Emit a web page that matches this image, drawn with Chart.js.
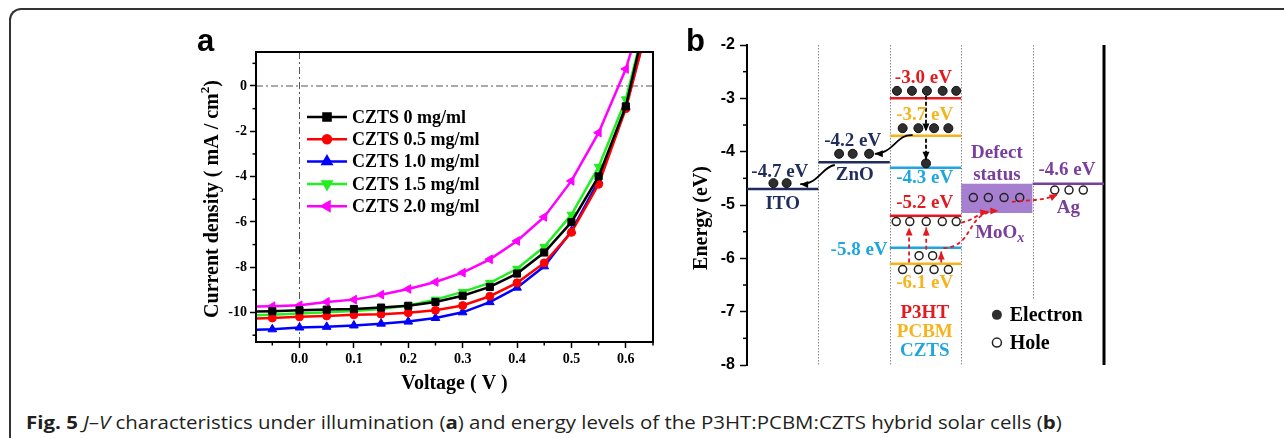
<!DOCTYPE html>
<html>
<head>
<meta charset="utf-8">
<script src="https://cdn.jsdelivr.net/npm/chart.js@4.4.1/dist/chart.umd.min.js"></script>
<style>
html,body{margin:0;padding:0;background:#fff;}
body{width:1284px;height:438px;position:relative;overflow:hidden;}
#frame{position:absolute;left:9px;top:8px;width:1300px;height:460px;border-top:2px solid #333;border-left:2px solid #333;border-top-left-radius:12px;}
#jv{position:absolute;left:170px;top:10px;}
#band{position:absolute;left:680px;top:10px;}
#caption{position:absolute;left:26px;top:412px;font-family:"Open Sans",sans-serif;font-size:18px;line-height:20px;color:#231f20;white-space:nowrap;transform-origin:0 0;}
</style>
</head>
<body>
<div id="frame"></div>
<canvas id="jv" width="500" height="390"></canvas>
<canvas id="band" width="440" height="390"></canvas>
<div id="caption"><b>Fig. 5</b> <i>J</i>–<i>V</i> characteristics under illumination (<b>a</b>) and energy levels of the P3HT:PCBM:CZTS hybrid solar cells (<b>b</b>)</div>
<script>
const SERIF = '"Liberation Serif", "Times New Roman", serif';
const SANS = '"Liberation Sans", Arial, sans-serif';

// ---- panel a : J-V curves ----
const voltage = [-0.1,-0.05,0,0.05,0.1,0.15,0.2,0.25,0.3,0.35,0.4,0.45,0.5,0.55,0.6,0.65];
const czts0  = [-9.96,-9.94,-9.90,-9.87,-9.84,-9.78,-9.70,-9.53,-9.26,-8.87,-8.28,-7.35,-6.01,-3.99,-0.90,4.3];
const czts05 = [-10.27,-10.24,-10.19,-10.15,-10.10,-10.07,-10.01,-9.90,-9.69,-9.28,-8.69,-7.81,-6.46,-4.34,-1.00,3.6];
const czts10 = [-10.78,-10.74,-10.66,-10.63,-10.57,-10.49,-10.40,-10.24,-9.99,-9.54,-8.90,-7.96,-6.41,-4.19,-0.93,3.6];
const czts15 = [-10.14,-10.10,-10.04,-9.99,-9.93,-9.84,-9.69,-9.43,-9.09,-8.69,-8.07,-7.10,-5.68,-3.57,-0.59,4.2];
const czts20 = [-9.75,-9.72,-9.68,-9.53,-9.43,-9.21,-8.96,-8.65,-8.24,-7.65,-6.84,-5.78,-4.19,-2.06,0.75,4.75];
const seriesNames = ['CZTS 0 mg/ml','CZTS 0.5 mg/ml','CZTS 1.0 mg/ml','CZTS 1.5 mg/ml','CZTS 2.0 mg/ml'];
const seriesValues = [czts0, czts05, czts10, czts15, czts20];
const seriesColors = ['#000000','#ff0000','#0000ff','#22ee22','#ff00ff'];
const seriesMarkers = ['rect','circle','triangle','triangle','triangle'];
const seriesRotation = [0,0,0,180,-90];
const seriesRadius = [5,4,5,5,5];

const jvDatasets = seriesNames.map((name,i)=>({
  label:name,
  data:voltage.map((v,k)=>({x:v,y:seriesValues[i][k]})),
  borderColor:seriesColors[i], backgroundColor:seriesColors[i],
  borderWidth:2.5, pointStyle:seriesMarkers[i], rotation:seriesRotation[i],
  pointRadius:seriesRadius[i], pointBorderWidth:1, tension:0
}));

const jvDecor = {
  id:'jvDecor',
  beforeDatasetsDraw(chart){
    const {ctx, chartArea:a, scales:{x,y}} = chart;
    ctx.save();
    ctx.strokeStyle='#555'; ctx.lineWidth=1; ctx.setLineDash([7,3,2,3]);
    const x0=x.getPixelForValue(0), y0=y.getPixelForValue(0);
    ctx.beginPath(); ctx.moveTo(x0,a.top); ctx.lineTo(x0,a.bottom); ctx.stroke();
    ctx.beginPath(); ctx.moveTo(a.left,y0); ctx.lineTo(a.right,y0); ctx.stroke();
    ctx.restore();
  },
  afterDraw(chart){
    const {ctx, chartArea:a, scales:{x,y}} = chart;
    ctx.save();
    ctx.strokeStyle='#000'; ctx.lineWidth=2;
    ctx.strokeRect(a.left,a.top,a.right-a.left,a.bottom-a.top);
    ctx.lineWidth=1.5;
    for (let v=-11; v<=1; v+=2){ const p=y.getPixelForValue(v); ctx.beginPath(); ctx.moveTo(a.left,p); ctx.lineTo(a.left-3.5,p); ctx.stroke(); }
    for (let v=-0.05; v<0.66; v+=0.1){ const p=x.getPixelForValue(v); if(p>a.right) break; ctx.beginPath(); ctx.moveTo(p,a.bottom); ctx.lineTo(p,a.bottom+3.5); ctx.stroke(); }
    // legend
    chart.data.datasets.forEach((ds,i)=>{
      const ly=a.top+65+i*22.3, lx0=a.left+51, lx1=lx0+40;
      ctx.strokeStyle=ds.borderColor; ctx.fillStyle=ds.backgroundColor; ctx.lineWidth=2.5;
      ctx.beginPath(); ctx.moveTo(lx0,ly); ctx.lineTo(lx1,ly); ctx.stroke();
      Chart.helpers.drawPoint(ctx,{pointStyle:ds.pointStyle,rotation:ds.rotation,radius:ds.pointRadius,borderWidth:1},(lx0+lx1)/2,ly);
      ctx.fillStyle='#000'; ctx.font='bold 18px '+SERIF; ctx.textAlign='left'; ctx.textBaseline='middle';
      ctx.fillText(ds.label,lx1+5,ly+1);
    });
    // panel letter and titles
    ctx.fillStyle='#000';
    ctx.font='bold 31px '+SANS; ctx.textAlign='left'; ctx.textBaseline='alphabetic';
    ctx.fillText('a',27,41);
    ctx.font='bold 20px '+SERIF; ctx.textAlign='center'; ctx.textBaseline='middle';
    ctx.fillText('Voltage ( V )',(a.left+a.right)/2,a.bottom+42);
    ctx.translate(a.left-43,(a.top+a.bottom)/2+2); ctx.rotate(-Math.PI/2);
    const main='Current density ( mA / cm', end=')';
    ctx.font='bold 20px '+SERIF; const w1=ctx.measureText(main).width, w3=ctx.measureText(end).width;
    ctx.font='bold 13px '+SERIF; const w2=ctx.measureText('2').width;
    let sx=-(w1+w2+w3)/2; ctx.textAlign='left';
    ctx.font='bold 20px '+SERIF; ctx.fillText(main,sx,0);
    ctx.font='bold 13px '+SERIF; ctx.fillText('2',sx+w1,-7);
    ctx.font='bold 20px '+SERIF; ctx.fillText(end,sx+w1+w2,0);
    ctx.restore();
  }
};

new Chart(document.getElementById('jv'),{
  type:'line',
  data:{datasets:jvDatasets},
  options:{
    responsive:false, animation:false,
    layout:{padding:{top:42,right:17,left:0,bottom:0}},
    plugins:{legend:{display:false},tooltip:{enabled:false}},
    scales:{
      x:{type:'linear',min:-0.08,max:0.65,
        afterFit:s=>{s.height=58;},
        border:{display:true,color:'#000',width:2},
        grid:{drawOnChartArea:false,tickLength:6,tickColor:'#000',tickWidth:1.5},
        ticks:{stepSize:0.1,includeBounds:false,padding:3,color:'#000',font:{family:SERIF,size:14,weight:'bold'},callback:v=>v.toFixed(1)}},
      y:{min:-11.3,max:1.5,
        afterFit:s=>{s.width=86;},
        border:{display:true,color:'#000',width:2},
        grid:{drawOnChartArea:false,tickLength:6,tickColor:'#000',tickWidth:1.5},
        ticks:{stepSize:2,includeBounds:false,padding:3,color:'#000',font:{family:SERIF,size:14,weight:'bold'}}}
    }
  },
  plugins:[jvDecor]
});

// ---- panel b : energy levels ----
const levelNames    = ['ITO','ZnO','P3HT LUMO','PCBM LUMO','CZTS CB','P3HT HOMO','CZTS VB','PCBM HOMO','Ag'];
const levelEnergies = [-4.7,-4.2,-3.0,-3.7,-4.3,-5.2,-5.8,-6.1,-4.6];
const levelColumn   = [0,1,2,2,2,2,2,2,4];
const mooxBand      = [-4.6,-5.15];
const mooxColumn    = 3;
const electronX = [2.10,2.31,2.52,2.74,2.93, 2.18,2.40,2.62,2.82, 2.507, 1.29,1.48,1.71, 0.37,0.555];
const electronE = [-2.86,-2.86,-2.86,-2.86,-2.86, -3.56,-3.56,-3.56,-3.56, -4.22, -4.04,-4.04,-4.04, -4.59,-4.59];
const holeX = [2.09,2.28,2.51,2.735,2.93, 2.41,2.60, 2.18,2.40,2.62,2.82, 3.17,3.38,3.60,3.82, 4.31,4.51,4.71];
const holeE = [-5.31,-5.31,-5.31,-5.31,-5.31, -5.95,-5.95, -6.21,-6.21,-6.21,-6.21, -4.86,-4.86,-4.86,-4.86, -4.72,-4.72,-4.72];
const separatorX = [1,2,3,4];
const separatorEnd = [-8,-8,-8,-6.75];
const labelText = ['-4.7 eV','ITO','-4.2 eV','ZnO','-3.0 eV','-3.7 eV','-4.3 eV','-5.2 eV','-5.8 eV','-6.1 eV','P3HT','PCBM','CZTS','Defect','status','-4.6 eV','Ag'];
const labelX = [0.46,0.50,1.48,1.51,2.47,2.49,2.49,2.49,1.57,2.49,2.49,2.49,2.49,3.50,3.50,4.48,4.50];
const labelE = [-4.38,-4.98,-3.81,-4.44,-2.62,-3.31,-4.49,-4.96,-5.84,-6.46,-7.02,-7.38,-7.73,-4.03,-4.44,-4.34,-5.06];
const arrowPaths = [
  [[2.507,-2.95],[2.507,-3.62]],
  [[2.507,-3.76],[2.507,-4.15]],
  [[2.32,-3.69],[2.10,-3.66],[2.05,-4.04],[1.79,-4.04]],
  [[1.23,-4.25],[1.05,-4.28],[1.00,-4.62],[0.745,-4.61]],
  [[2.27,-6.08],[2.27,-5.42]],
  [[2.51,-5.84],[2.51,-5.42]],
  [[2.72,-6.08],[2.72,-5.87]],
  [[2.75,-5.81],[3.20,-5.78],[3.05,-5.12],[3.52,-5.11]],
  [[3.00,-5.33],[3.15,-5.30],[3.25,-5.15],[3.38,-5.12]],
  [[3.71,-4.94],[3.95,-4.90],[4.15,-4.93],[4.35,-4.80]]
];

const NAVY='#1f2d5e', RED='#e3191f', GOLD='#f6b41c', CYAN='#1fa6e0', PURPLE='#7a3f9d';
const levelColors = [NAVY,NAVY,RED,GOLD,CYAN,RED,CYAN,GOLD,PURPLE];
const labelColors = [NAVY,NAVY,NAVY,NAVY,RED,GOLD,CYAN,RED,CYAN,GOLD,RED,GOLD,CYAN,PURPLE,PURPLE,PURPLE,PURPLE];
const arrowColors = ['#000','#000','#000','#000',RED,RED,RED,RED,RED,RED];
const arrowDash = [[4,2],[4,2],[],[],[4,3],[4,3],[4,3],[4,3],[4,3],[4,3]];

const bandDatasets = [
  {label:'Electron',data:electronX.map((v,i)=>({x:v,y:electronE[i]})),showLine:false,pointRadius:4.5,backgroundColor:'#2e2e2e',borderColor:'#111',pointBorderWidth:1},
  {label:'Hole',data:holeX.map((v,i)=>({x:v,y:holeE[i]})),showLine:false,pointRadius:4,backgroundColor:'rgba(0,0,0,0)',borderColor:'#222',pointBorderWidth:1.5},
  ...levelNames.map((n,i)=>({label:n,data:[{x:levelColumn[i],y:levelEnergies[i]},{x:levelColumn[i]+1,y:levelEnergies[i]}],borderColor:levelColors[i],borderWidth:2.5,pointRadius:0})),
  {label:'MoOx',data:[{x:mooxColumn,y:mooxBand[0]},{x:mooxColumn+1,y:mooxBand[0]}],borderWidth:0,pointRadius:0,fill:{value:mooxBand[1]},backgroundColor:'rgba(150,105,200,0.85)'}
];

function drawArrow(ctx, pts, color, dash){
  ctx.save();
  ctx.strokeStyle=color; ctx.fillStyle=color; ctx.lineWidth=1.8; ctx.setLineDash(dash);
  ctx.beginPath(); ctx.moveTo(pts[0][0],pts[0][1]);
  if (pts.length===4) ctx.bezierCurveTo(pts[1][0],pts[1][1],pts[2][0],pts[2][1],pts[3][0],pts[3][1]);
  else ctx.lineTo(pts[1][0],pts[1][1]);
  ctx.stroke();
  const e=pts[pts.length-1], p=pts[pts.length-2];
  const ang=Math.atan2(e[1]-p[1],e[0]-p[0]);
  ctx.setLineDash([]);
  ctx.beginPath(); ctx.moveTo(e[0],e[1]);
  ctx.lineTo(e[0]-8*Math.cos(ang)+3.5*Math.sin(ang),e[1]-8*Math.sin(ang)-3.5*Math.cos(ang));
  ctx.lineTo(e[0]-8*Math.cos(ang)-3.5*Math.sin(ang),e[1]-8*Math.sin(ang)+3.5*Math.cos(ang));
  ctx.closePath(); ctx.fill();
  ctx.restore();
}

const bandDecor = {
  id:'bandDecor',
  beforeDatasetsDraw(chart){
    const {ctx, chartArea:a, scales:{x,y}} = chart;
    ctx.save();
    ctx.strokeStyle='#8a8a8a'; ctx.lineWidth=1; ctx.setLineDash([1.5,1.5]);
    separatorX.forEach((v,i)=>{const p=Math.round(x.getPixelForValue(v))+0.5; ctx.beginPath(); ctx.moveTo(p,a.top); ctx.lineTo(p,y.getPixelForValue(separatorEnd[i])); ctx.stroke();});
    ctx.setLineDash([]); ctx.strokeStyle='#000'; ctx.lineWidth=3;
    ctx.beginPath(); ctx.moveTo(a.right,a.top); ctx.lineTo(a.right,a.bottom); ctx.stroke();
    ctx.restore();
  },
  afterDraw(chart){
    const {ctx, chartArea:a, scales:{x,y}} = chart;
    ctx.save();
    ctx.strokeStyle='#000'; ctx.lineWidth=1.5;
    for (let v=-7.5; v<-2; v+=1){const p=y.getPixelForValue(v); ctx.beginPath(); ctx.moveTo(a.left,p); ctx.lineTo(a.left-4,p); ctx.stroke();}
    arrowPaths.forEach((path,i)=>drawArrow(ctx,path.map(q=>[x.getPixelForValue(q[0]),y.getPixelForValue(q[1])]),arrowColors[i],arrowDash[i]));
    ctx.textAlign='center'; ctx.textBaseline='middle'; ctx.font='bold 19px '+SERIF;
    labelText.forEach((t,i)=>{ctx.fillStyle=labelColors[i]; ctx.fillText(t,x.getPixelForValue(labelX[i]),y.getPixelForValue(labelE[i]));});
    // MoOx with italic subscript
    ctx.fillStyle=PURPLE; ctx.textAlign='left';
    const mw=ctx.measureText('MoO').width; ctx.font='italic bold 14px '+SERIF; const xw=ctx.measureText('x').width;
    const mx=x.getPixelForValue(3.54)-(mw+xw)/2, my=y.getPixelForValue(-5.53);
    ctx.font='bold 19px '+SERIF; ctx.fillText('MoO',mx,my);
    ctx.font='italic bold 14px '+SERIF; ctx.fillText('x',mx+mw,my+5);
    // marker legend
    const ex=x.getPixelForValue(3.5);
    ctx.fillStyle='#2e2e2e'; ctx.beginPath(); ctx.arc(ex,y.getPixelForValue(-7.06),5,0,Math.PI*2); ctx.fill();
    ctx.strokeStyle='#222'; ctx.lineWidth=1.5; ctx.beginPath(); ctx.arc(ex,y.getPixelForValue(-7.58),4.5,0,Math.PI*2); ctx.stroke();
    ctx.fillStyle='#000'; ctx.font='bold 20px '+SERIF; ctx.textAlign='left';
    ctx.fillText('Electron',x.getPixelForValue(3.68),y.getPixelForValue(-7.06)+1);
    ctx.fillText('Hole',x.getPixelForValue(3.68),y.getPixelForValue(-7.58)+1);
    // titles
    ctx.font='bold 31px '+SANS; ctx.textBaseline='alphabetic'; ctx.fillText('b',6,41);
    ctx.translate(22,208); ctx.rotate(-Math.PI/2);
    ctx.font='bold 20px '+SERIF; ctx.textAlign='center'; ctx.textBaseline='middle';
    ctx.fillText('Energy (eV)',0,0);
    ctx.restore();
  }
};

new Chart(document.getElementById('band'),{
  type:'line',
  data:{datasets:bandDatasets},
  options:{
    responsive:false, animation:false,
    layout:{padding:{top:35,right:16,left:0,bottom:35}},
    plugins:{legend:{display:false},tooltip:{enabled:false}},
    scales:{
      x:{type:'linear',min:0,max:5,display:false},
      y:{min:-8,max:-2,
        afterFit:s=>{s.width=67;},
        border:{display:true,color:'#000',width:2},
        grid:{drawOnChartArea:false,tickLength:7,tickColor:'#000',tickWidth:1.5},
        ticks:{stepSize:1,padding:5,color:'#000',font:{family:SANS,size:16,weight:'bold'}}}
    }
  },
  plugins:[bandDecor]
});

const cap=document.getElementById('caption');
cap.style.transform='scaleX('+(1036/cap.offsetWidth)+')';
</script>
</body>
</html>
